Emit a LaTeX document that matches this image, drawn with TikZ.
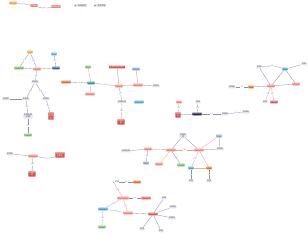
\documentclass[tikz,border=0pt]{standalone}
\usepackage{fontspec}
\newfontfamily\cjk{Noto Sans CJK SC}
\definecolor{cOr}{HTML}{F0A030}
\definecolor{cOrD}{HTML}{DE6A1E}
\definecolor{cSal}{HTML}{EF7F76}
\definecolor{cRed}{HTML}{D9504C}
\definecolor{cGrn}{HTML}{72B95A}
\definecolor{cLb}{HTML}{4FA8DA}
\definecolor{cDb}{HTML}{2D5E9E}
\definecolor{cTeal}{HTML}{2A8F98}
\definecolor{cBg}{HTML}{7C9CC8}
\definecolor{cNavy}{HTML}{1E1E4A}
\definecolor{cGrF}{HTML}{E6E7EE}
\definecolor{cTxt}{HTML}{3A3F55}
\definecolor{eG}{HTML}{8A8FA8}
\definecolor{eR}{HTML}{F2A0A0}
\definecolor{eB}{HTML}{8ECDF0}
\definecolor{eO}{HTML}{F4B868}
\tikzset{
  nd/.style={font=\cjk\fontsize{2}{2.3}\selectfont, inner xsep=0.6pt, inner ysep=0.5pt, rounded corners=0.3pt, text=white, align=center},
  nor/.style={nd, fill=cOr},
  nord/.style={nd, fill=cOrD},
  nsal/.style={nd, fill=cSal},
  nred/.style={nd, fill=cRed},
  ngrn/.style={nd, fill=cGrn},
  nlb/.style={nd, fill=cLb},
  ndb/.style={nd, fill=cDb},
  nteal/.style={nd, fill=cTeal},
  nbg/.style={nd, fill=cBg},
  nnavy/.style={nd, fill=cNavy},
  ngr/.style={nd, fill=cGrF, text=cTxt},
  ed/.style={draw=eG, line width=0.3pt},
  er/.style={draw=eR, line width=0.35pt},
  eb/.style={draw=eB, line width=0.35pt},
  eo/.style={draw=eO, line width=0.35pt},
  lb/.style={font=\cjk\fontsize{1.5}{1.7}\selectfont, text=eG, fill=white, inner sep=0.2pt},
  lg/.style={font=\cjk\fontsize{2}{2.3}\selectfont, text=cTxt, fill=cGrF, inner sep=0.6pt},
  sq/.style={inner sep=0pt, minimum size=1.3pt}
}
\begin{document}
\begin{tikzpicture}[x=1pt,y=-1pt]
\useasboundingbox (0,0) rectangle (308,238);
\fill[white] (0,0) rectangle (308,238);
% top cluster + legend
\node[nor] (t1) at (13,3) {实体名};
\node[nsal] (t2) at (34,5.5) {实体名};
\node[nsal] (t3) at (56,6.5) {实体名称};
\draw[ed] (t1) -- node[lb]{关系} (t2);
\draw[ed] (t2) to[out=-20,in=190] node[lb]{关系} (t3);
\node[lg, inner xsep=0.6pt, text width=11pt, align=right] (lg1) at (80.5,5.5) {实体类型};
\node[sq, fill=cRed] (lq1) at ([xshift=1.2pt]lg1.west) {};
\node[lg, inner xsep=0.6pt, text width=11pt, align=right] (lg2) at (100,5.5) {实体类型};
\node[sq, fill=cGrn] (lq2) at ([xshift=1.2pt]lg2.west) {};
% cluster A
\node[nor] (a1) at (30,52) {实体};
\node[nlb] (a2) at (54,54) {实体};
\node[ngrn] (a3) at (19,68) {实体名称};
\node[nsal] (a4) at (37,69) {实体名};
\node[ndb] (a5) at (56,68) {实体名};
\node[ngr] (a6) at (35,82) {实体名};
\node[ngr] (a7) at (6,99) {实体名};
\node[ngr] (a8) at (26,99) {实体名};
\node[ngr] (a9) at (46,99) {实体名};
\node[ngr] (a10) at (28,116) {实体名称\\实体};
\node[nred] (a11) at (51,116) {实体\\名称\\名};
\node[ngrn] (a12) at (28,135) {实体名};
\draw[ed] (a1) -- node[lb]{关系} (a4);
\draw[ed] (a1) -- node[lb]{关系} (a3);
\draw[ed] (a2) -- node[lb]{关系} (a5);
\draw[ed] (a5) -- node[lb]{关系} (a4);
\draw[ed] (a3) -- (a4);
\draw[er] (a4) -- node[lb]{关系} (a6);
\draw[ed] (a6) -- node[lb]{关系} (a8);
\draw[ed] (a6) -- node[lb]{关系} (a9);
\draw[ed] (a7) -- (a8);
\draw[ed] (a8) -- node[lb]{关系} (a10);
\draw[ed] (a9) -- node[lb]{关系} (a11);
\draw[ed] (a10) -- node[lb]{关系} (a12);
% cluster B
\node[nord] (b1) at (66,82) {实体名称};
\node[ngrn] (b2) at (88,67) {实体};
\node[nteal] (b3) at (91,83) {实体名};
\node[nsal] (b4) at (90,94) {实体名称};
\node[nred] (b5) at (117,67) {实体名称\,实体名};
\node[nbg] (b6) at (136,69) {实体名};
\node[nsal] (b7) at (119,86) {实体名};
\node[nsal] (b8) at (138,85) {实体名称};
\node[ngr] (b9) at (156,86) {实体名};
\node[ngr] (b10) at (122,102) {实体名称};
\node[nteal,fill=cLb!80!cTeal] (b11) at (139,102) {实体名称};
\node[nred] (b12) at (121,122) {实体名\\称};
\draw[ed] (b1) -- node[lb]{关系} (b3);
\draw[er] (b2) -- (b3);
\draw[er] (b3) -- (b4);
\draw[ed] (b3) -- node[lb]{关系} (b7);
\draw[ed] (b5) -- (b7);
\draw[ed] (b7) -- node[lb]{关系} (b8);
\draw[ed] (b6) -- (b8);
\draw[ed] (b8) -- (b9);
\draw[ed] (b7) -- node[lb]{关系} (b10);
\draw[er] (b10) -- node[lb]{关系} (b12);
% cluster C
\node[ngr] (c1) at (259,67) {实体};
\node[ngr] (c2) at (304,64) {实体};
\node[nteal,fill=cLb!60!cTeal] (c3) at (285,69) {实体};
\node[nord] (c4) at (251,87) {实体};
\node[ngr] (c5) at (232,87) {实体名};
\node[nsal] (c6) at (271,86) {实体名};
\node[nsal] (c7) at (296,84) {实体名};
\node[ngr] (c8) at (265,102) {实体};
\node[nred] (c9) at (274,102) {实体名};
\draw[ed] (c1) to[bend left=12] node[lb]{关系} (c3);
\draw[ed] (c2) -- (c3);
\draw[ed] (c3) -- node[lb]{关系} (c6);
\draw[ed] (c3) -- (c7);
\draw[ed] (c1) -- node[lb]{关系} (c6);
\draw[ed] (c5) -- node[lb]{关系} (c4);
\draw[ed] (c4) -- (c6);
\draw[ed] (c6) -- (c7);
\draw[er] (c6) -- node[lb]{关系} (c8);
\draw[er] (c6) -- node[lb]{关系} (c9);
% cluster D
\node[nsal] (d1) at (179,102) {实体};
\node[ngr] (d2) at (198,102) {实体};
\node[nred] (d3) at (178,115) {实体\\名};
\node[nnavy] (d4) at (197,114) {实体名称};
\node[ngr] (d5) at (225,114) {实体名};
\node[ngr] (d6) at (246,112) {实体名};
\draw[er] (d1) -- node[lb]{关系} (d3);
\draw[ed] (d2) -- node[lb]{关系} (d4);
\draw[ed] (d3) -- (d4);
\draw[ed] (d4) -- node[lb]{关系} (d5);
\draw[ed] (d5) -- node[lb]{关系} (d6);
% cluster E
\node[ngr] (e1) at (183,136) {实体名\\称};
\node[nbg] (e2) at (219,136) {实体};
\node[ngr] (e3) at (126,151) {实体名称};
\node[nsal] (e4) at (148,149) {实体名};
\node[nsal] (e5) at (171,150) {实体名称};
\node[nsal] (e6) at (199,150) {实体名称};
\node[ngr] (e7) at (220,149) {实体名};
\node[nbg] (e8) at (146,163) {实体};
\node[nsal] (e9) at (159,164) {实体名};
\node[ngrn] (e10) at (181,165) {实体名};
\node[nteal,fill=cLb!70!cTeal] (e11) at (191,168) {实体};
\node[nord] (e12) at (209,168) {实体};
\node[ngr] (e13) at (191,181) {实体};
\node[ngr] (e14) at (209,181) {实体};
\draw[ed] (e3) -- (e4);
\draw[ed] (e4) -- node[lb]{关系} (e5);
\draw[ed] (e4) -- node[lb]{关系} (e8);
\draw[eo] (e5) -- (e9);
\draw[ed] (e5) -- node[lb]{关系} (e10);
\draw[ed] (e1) -- (e5);
\draw[ed] (e1) -- (e6);
\draw[er] (e5) -- node[lb]{关系} (e6);
\draw[er] (e2) -- (e6);
\draw[ed] (e2) -- (e7);
\draw[ed] (e7) -- (e6);
\draw[er] (e6) -- node[lb]{关系} (e11);
\draw[er] (e6) -- (e12);
\draw[eo] (e11) -- (e12);
\draw[ed] (e11) -- node[lb]{关系} (e13);
\draw[ed] (e12) -- node[lb]{关系} (e14);
% cluster F
\node[ngr] (f1) at (10,154) {实体名};
\node[nsal] (f2) at (33,156) {实体名称};
\node[nred] (f3) at (60,155) {实体名称\\实体名};
\node[nred] (f4) at (32,174) {实体名\\称};
\draw[ed] (f1) -- (f2);
\draw[ed] (f2) to[out=-10,in=200] (f3);
\draw[ed] (f2) -- node[lb]{关系} (f4);
% cluster G
\node[ngrn,inner sep=0.5pt,rounded corners=0pt] (g1) at (113.5,182) {};
\node[font=\cjk\fontsize{2}{2.3}\selectfont, text=cTxt, inner sep=0.2pt, anchor=west] (g1t) at (114.6,182) {实体};
\node[nord] (g2) at (137,182) {实体名};
\node[nsal] (g3) at (123,198) {实体名称名};
\node[nsal,fill=cRed!70!cSal] (g4) at (146,198) {实体名称};
\node[ngr] (g5) at (164,198) {实体};
\node[nlb,fill=cLb!80!cDb] (g6) at (103,209) {实体名称};
\node[nsal] (g7) at (128,213) {实体名称};
\node[nred] (g8) at (153,214) {实体名称};
\node[ngr] (g9) at (173,207) {实体名};
\node[ngr] (g10) at (172,218) {实体名};
\node[ngr] (g11) at (142,229) {实体};
\node[ngr] (g12) at (161,231) {实体};
\node[ngrn] (g13) at (102,227) {实体名};
\draw[ed] (g1t) -- node[lb]{关系} (g2);
\draw[er] (g1) -- node[lb]{关系} (g3);
\draw[ed] (g3) -- node[lb]{关系} (g4);
\draw[eb] (g3) -- node[lb]{关系} (g6);
\draw[er] (g3) -- node[lb]{关系} (g7);
\draw[eb] (g6) -- node[lb]{关系} (g7);
\draw[eb] (g6) -- node[lb]{关系} (g13);
\draw[ed] (g7) -- node[lb]{关系} (g8);
\draw[ed] (g8) -- (g5);
\draw[ed] (g8) -- (g9);
\draw[ed] (g8) -- (g10);
\draw[ed] (g8) -- (g11);
\draw[ed] (g8) -- (g12);
\end{tikzpicture}
\end{document}
